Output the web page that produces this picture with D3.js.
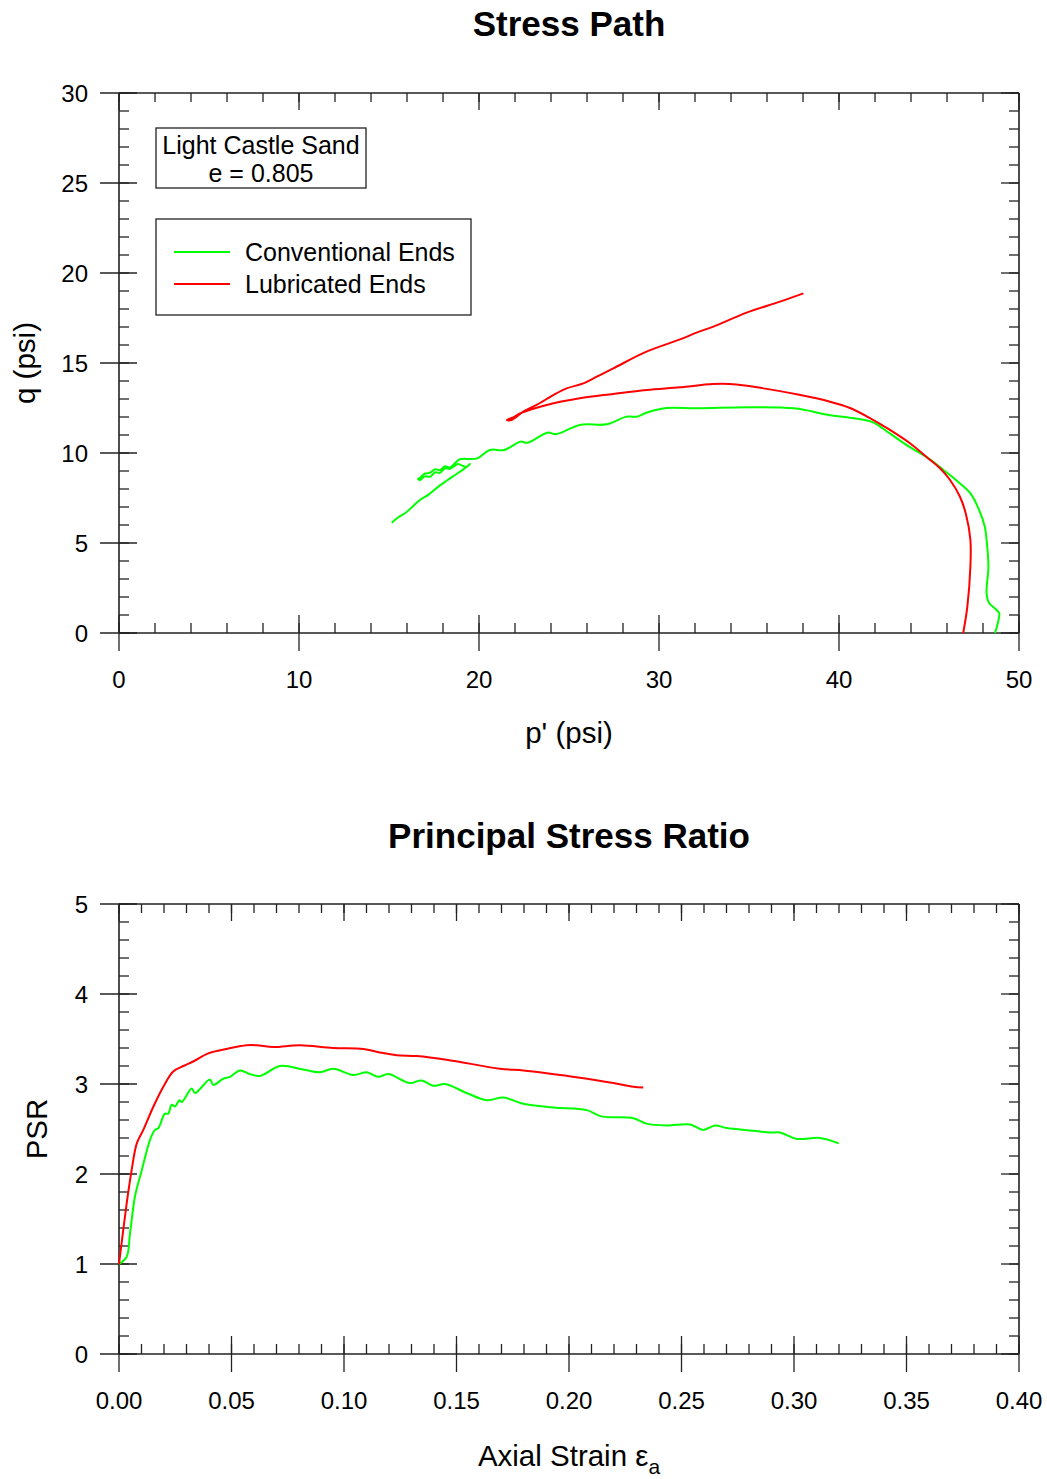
<!DOCTYPE html>
<html><head><meta charset="utf-8">
<script src="https://cdn.jsdelivr.net/npm/d3@7"></script>
<style>body{margin:0;background:#fff}svg{display:block;font-family:"Liberation Sans",Arial,sans-serif}</style>
</head><body><svg id="c" width="1047" height="1479"></svg>
<script>
// ---- Stress path data (p', q) ----
const convP = [48.67,48.9,48.76,48.33,48.2,48.3,48.2,48.1,47.8,47.3,46.5,45.8,44.97,43.9,42.8,41.9,41.2,40.6,39.5,37.5,34.9,32.1,30.4,29.3,28.8,28.2,27.1,25.6,24.3,23.8,22.7,22.3,21.4,20.6,19.9,18.94,
 18.67,18.39,18.11,17.83,17.56,17.28,17.0,16.72,16.61,16.72,17.0,17.28,17.56,17.83,18.11,18.39,18.67,18.83,19.28,19.5,
 19.13,18.67,18.2,17.74,17.18,16.72,16.35,15.89,15.52,15.15];
const convQ = [0,1.1,1.28,1.68,2.2,3.7,5.17,5.9,6.8,7.76,8.5,9.06,9.7,10.35,11.1,11.7,11.87,11.96,12.1,12.48,12.54,12.48,12.5,12.24,12.02,12.02,11.6,11.56,11.05,11.13,10.57,10.63,10.17,10.17,9.7,9.65,
 9.44,9.2,9.26,9.05,9.1,8.9,8.86,8.62,8.56,8.5,8.7,8.68,8.92,8.9,9.14,9.12,9.3,9.39,9.22,9.39,
 9.09,8.78,8.46,8.13,7.67,7.39,7.06,6.65,6.43,6.13];
const lubP = [46.9,47.13,47.3,47.3,47.04,46.72,46.17,45.61,44.96,43.94,42.83,41.72,40.61,39.5,37.65,35.8,34.3,33.0,31.17,29.3,27.46,25.6,23.76,22.28,21.9,21.54,21.8,
 22.46,23.2,24.13,24.87,25.8,26.54,27.46,29.3,31.17,32.09,33.02,34.87,36.72,38.02];
const lubQ = [0,1.47,3.7,5.17,6.65,7.57,8.5,9.15,9.7,10.54,11.28,11.94,12.5,12.85,13.26,13.59,13.81,13.83,13.65,13.5,13.28,13.04,12.67,12.2,11.98,11.83,11.83,
 12.3,12.67,13.22,13.59,13.87,14.24,14.7,15.63,16.31,16.69,17.02,17.8,18.41,18.87];

// ---- PSR data (axial strain, PSR) ----
const convEps = [0,0.0034,0.0049,0.0071,0.0101,0.0138,0.016,0.0175,0.0204,0.0219,0.0234,0.0249,0.0268,0.0279,0.0323,0.0338,0.0404,0.0419,0.0464,0.0493,0.0538,0.0582,0.0627,0.0716,0.0819,0.0893,0.0952,0.1041,0.1101,0.1152,0.1197,0.1293,0.1345,0.1397,0.1449,0.1545,0.1634,0.1708,0.1797,0.1930,0.2079,0.2145,0.2286,0.2345,0.2434,0.2538,0.2597,0.2649,0.2701,0.2819,0.2893,0.2938,0.3012,0.3116,0.3199];
const convPSR = [1,1.08,1.34,1.75,2.04,2.38,2.49,2.51,2.67,2.67,2.77,2.75,2.82,2.80,2.95,2.90,3.05,2.99,3.06,3.08,3.15,3.11,3.09,3.20,3.16,3.13,3.17,3.10,3.13,3.08,3.11,3.01,3.04,2.98,3.0,2.90,2.82,2.85,2.78,2.74,2.71,2.64,2.62,2.56,2.54,2.55,2.49,2.54,2.51,2.48,2.46,2.46,2.39,2.40,2.34];
const lubEps = [0,0.0034,0.0056,0.0079,0.0108,0.0153,0.0197,0.0241,0.0286,0.033,0.0397,0.0479,0.0567,0.0612,0.0686,0.0804,0.0952,0.1086,0.116,0.1234,0.1323,0.1456,0.1693,0.1797,0.1901,0.2049,0.2197,0.2286,0.2330];
const lubPSR = [1,1.67,2.04,2.34,2.49,2.75,2.97,3.14,3.2,3.25,3.34,3.39,3.43,3.43,3.41,3.43,3.40,3.39,3.35,3.32,3.31,3.27,3.17,3.15,3.12,3.07,3.01,2.97,2.96];

const pTicks = [0,10,20,30,40,50];
const qTicks = [0,5,10,15,20,25,30];
const epsTicks = [0,0.05,0.10,0.15,0.20,0.25,0.30,0.35,0.40];
const psrTicks = [0,1,2,3,4,5];
const seriesNames = ["Conventional Ends","Lubricated Ends"];
const seriesColors = ["#00ff00","#ff0000"];

const svg = d3.select("#c");
const L = 119, R = 1019;
const AX = "#222";

function panel(o){
  const x = d3.scaleLinear().domain(o.xd).range([L,R]);
  const y = d3.scaleLinear().domain(o.yd).range([o.bot,o.top]);
  const g = svg.append("g");
  g.append("line").attr("x1",L).attr("x2",R).attr("y1",o.bot).attr("y2",o.bot).attr("stroke",AX).attr("stroke-width",1.6);
  g.append("line").attr("x1",L).attr("x2",R).attr("y1",o.top).attr("y2",o.top).attr("stroke",AX).attr("stroke-width",1.6);
  g.append("line").attr("x1",L).attr("x2",L).attr("y1",o.top).attr("y2",o.bot).attr("stroke",AX).attr("stroke-width",1.6);
  g.append("line").attr("x1",R).attr("x2",R).attr("y1",o.top).attr("y2",o.bot).attr("stroke",AX).attr("stroke-width",1.6);
  const xMinor = d3.range(o.xd[0], o.xd[1]+1e-9, o.xMinorStep);
  const yMinor = d3.range(o.yd[0], o.yd[1]+1e-9, o.yMinorStep);
  const tk = (x1,y1,x2,y2)=>g.append("line").attr("x1",x1).attr("y1",y1).attr("x2",x2).attr("y2",y2).attr("stroke",AX).attr("stroke-width",1.3);
  xMinor.forEach(v=>{const px=x(v); tk(px,o.bot,px,o.bot-10); tk(px,o.top,px,o.top+9);});
  yMinor.forEach(v=>{const py=y(v); tk(L,py,L+10,py); tk(R,py,R-10,py);});
  o.xt.forEach(v=>{const px=x(v); tk(px,o.bot-18,px,o.bot+18); tk(px,o.top,px,o.top+17);});
  o.yt.forEach(v=>{const py=y(v); tk(L-19,py,L+18,py); tk(R,py,R-18,py);});
  g.selectAll(".xl").data(o.xt).enter().append("text").attr("x",d=>x(d)).attr("y",o.bot+55)
    .attr("text-anchor","middle").attr("font-size",24).text(o.xf);
  g.selectAll(".yl").data(o.yt).enter().append("text").attr("x",L-31).attr("y",d=>y(d)+8.5)
    .attr("text-anchor","end").attr("font-size",24).text(o.yf);
  const line = d3.line().x(d=>x(d[0])).y(d=>y(d[1])).curve(d3.curveCatmullRom.alpha(0.5));
  o.series.forEach((s,i)=>{
    g.append("path").datum(d3.zip(s[0],s[1])).attr("d",line).attr("fill","none")
     .attr("stroke",seriesColors[i]).attr("stroke-width",2).attr("stroke-linejoin","round");
  });
  return g;
}

// Top panel
panel({xd:[0,50],yd:[0,30],top:93,bot:633,xMinorStep:2,yMinorStep:1,xt:pTicks,yt:qTicks,
  xf:d=>d,yf:d=>d,series:[[convP,convQ],[lubP,lubQ]]});
svg.append("text").attr("x",569).attr("y",36).attr("text-anchor","middle").attr("font-size",35).attr("font-weight","bold").text("Stress Path");
svg.append("text").attr("x",569).attr("y",743).attr("text-anchor","middle").attr("font-size",29.5).text("p' (psi)");
svg.append("text").attr("transform","translate(35,363) rotate(-90)").attr("text-anchor","middle").attr("font-size",29.5).text("q (psi)");

// info box
svg.append("rect").attr("x",156).attr("y",128).attr("width",210).attr("height",60).attr("fill","#fff").attr("stroke",AX).attr("stroke-width",1.3);
svg.append("text").attr("x",261).attr("y",154).attr("text-anchor","middle").attr("font-size",25).text("Light Castle Sand");
svg.append("text").attr("x",261).attr("y",182).attr("text-anchor","middle").attr("font-size",25).text("e = 0.805");
// legend
svg.append("rect").attr("x",156).attr("y",219).attr("width",315).attr("height",96).attr("fill","#fff").attr("stroke",AX).attr("stroke-width",1.3);
seriesNames.forEach((n,i)=>{
  const yy = 252 + i*32;
  svg.append("line").attr("x1",174).attr("x2",230).attr("y1",yy).attr("y2",yy).attr("stroke",seriesColors[i]).attr("stroke-width",2);
  svg.append("text").attr("x",245).attr("y",yy+9).attr("font-size",25).text(n);
});

// Bottom panel
panel({xd:[0,0.4],yd:[0,5],top:904,bot:1354,xMinorStep:0.01,yMinorStep:0.2,xt:epsTicks,yt:psrTicks,
  xf:d=>d3.format(".2f")(d),yf:d=>d,series:[[convEps,convPSR],[lubEps,lubPSR]]});
svg.append("text").attr("x",569).attr("y",848).attr("text-anchor","middle").attr("font-size",35).attr("font-weight","bold").text("Principal Stress Ratio");
svg.append("text").attr("transform","translate(47,1129) rotate(-90)").attr("text-anchor","middle").attr("font-size",29.5).text("PSR");
const at = svg.append("text").attr("x",569).attr("y",1466).attr("text-anchor","middle").attr("font-size",29.5);
at.append("tspan").text("Axial Strain ε");
at.append("tspan").attr("font-size",21).attr("dy",8).text("a");
</script></body></html>
